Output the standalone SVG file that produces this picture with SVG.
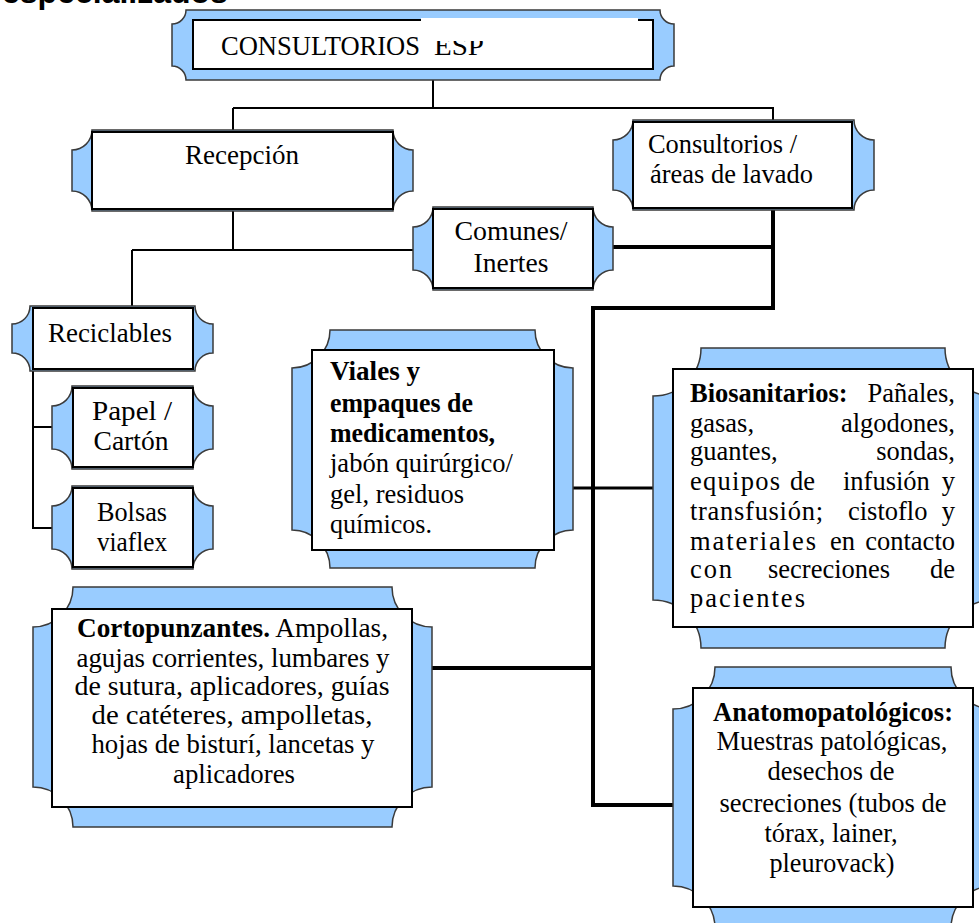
<svg xmlns="http://www.w3.org/2000/svg" width="979" height="923" viewBox="0 0 979 923">
  <style>
    .plq { fill: #99CCFF; stroke: #3a3a3a; stroke-width: 1.5; }
    .box { fill: #FFFFFF; stroke: #000000; stroke-width: 2; }
    .thin { fill: none; stroke: #000000; stroke-width: 2; }
    .thick { fill: none; stroke: #000000; stroke-width: 4; }
    .mid { fill: none; stroke: #000000; stroke-width: 3; }
    text { font-family: "Liberation Serif", "Times New Roman", serif; font-size: 26.5px; fill: #000000; }
    .b { font-weight: bold; }
    .c { text-anchor: middle; }
    .e { text-anchor: end; }
    .title { font-size: 27.5px; }
    .head { font-family: "Liberation Sans", Arial, sans-serif; font-size: 32px; font-weight: bold; }
  </style>

  <rect x="0" y="0" width="979" height="923" fill="#FFFFFF"/>

  <!-- heading, cut off by the top edge -->
  <text class="head" x="2" y="3">especializados</text>

  <!-- connectors -->
  <g id="connectors">
    <path class="thin" d="M433 80 V108 M233 108 H773 V122 M233 108 V131"/>
    <path class="thin" d="M233 209 V250 M132 250 H413 M132 250 V307"/>
    <path class="thin" d="M33 369 V528 H52 M33 427 H52"/>
    <path class="thick" d="M773 208 V308 H593 V805 H673"/>
    <path class="thick" d="M613 247 H773"/>
    <path class="thick" d="M432 668 H593"/>
    <path class="mid" d="M573 488 H653"/>
  </g>

  <!-- CONSULTORIOS ESP -->
  <g id="n-consultorios-esp">
    <path class="plq" d="M186 10 H660 A14 14 0 0 0 674 24 V66 A14 14 0 0 0 660 80 H186 A14 14 0 0 0 172 66 V24 A14 14 0 0 0 186 10 Z"/>
    <rect class="box" x="193" y="20" width="460" height="49"/>
    <text class="title" x="221" y="55" textLength="199" lengthAdjust="spacingAndGlyphs">CONSULTORIOS</text>
    <text class="title" x="434" y="55" textLength="50" lengthAdjust="spacingAndGlyphs">ESP</text>
    <rect x="421" y="18" width="217" height="23" fill="#FFFFFF"/>
  </g>

  <!-- Recepción -->
  <g id="n-recepcion">
    <path class="plq" d="M92 130 H393 A20 20 0 0 0 413 150 V191 A20 20 0 0 0 393 211 H92 A20 20 0 0 0 72 191 V150 A20 20 0 0 0 92 130 Z"/>
    <rect class="box" x="92" y="132" width="301" height="77"/>
    <text class="c" x="242" y="164" textLength="114" lengthAdjust="spacingAndGlyphs">Recepción</text>
  </g>

  <!-- Consultorios / áreas de lavado -->
  <g id="n-consultorios">
    <path class="plq" d="M633 120 H854 A20 20 0 0 0 874 140 V190 A20 20 0 0 0 854 210 H633 A20 20 0 0 0 613 190 V140 A20 20 0 0 0 633 120 Z"/>
    <rect class="box" x="633" y="122" width="219" height="86"/>
    <text x="648" y="153" textLength="149" lengthAdjust="spacingAndGlyphs">Consultorios /</text>
    <text x="650" y="183" textLength="163" lengthAdjust="spacingAndGlyphs">áreas de lavado</text>
  </g>

  <!-- Comunes / Inertes -->
  <g id="n-comunes">
    <path class="plq" d="M433 207 H593 A20 20 0 0 0 613 227 V270 A20 20 0 0 0 593 290 H433 A20 20 0 0 0 413 270 V227 A20 20 0 0 0 433 207 Z"/>
    <rect class="box" x="433" y="209" width="160" height="79"/>
    <text class="c" x="511" y="240" textLength="113" lengthAdjust="spacingAndGlyphs">Comunes/</text>
    <text class="c" x="511" y="272" textLength="75" lengthAdjust="spacingAndGlyphs">Inertes</text>
  </g>

  <!-- Reciclables -->
  <g id="n-reciclables">
    <path class="plq" d="M30 306 H195 A18 18 0 0 0 213 324 V353 A18 18 0 0 0 195 371 H30 A18 18 0 0 0 12 353 V324 A18 18 0 0 0 30 306 Z"/>
    <rect class="box" x="33" y="308" width="160" height="61"/>
    <text class="c" x="110" y="342" textLength="124" lengthAdjust="spacingAndGlyphs">Reciclables</text>
  </g>

  <!-- Papel / Cartón -->
  <g id="n-papel">
    <path class="plq" d="M72 386 H193 A20 20 0 0 0 213 406 V449 A20 20 0 0 0 193 469 H72 A20 20 0 0 0 52 449 V406 A20 20 0 0 0 72 386 Z"/>
    <rect class="box" x="73" y="388" width="120" height="79"/>
    <text class="c" x="132" y="420" textLength="80" lengthAdjust="spacingAndGlyphs">Papel /</text>
    <text class="c" x="131" y="450" textLength="75" lengthAdjust="spacingAndGlyphs">Cartón</text>
  </g>

  <!-- Bolsas viaflex -->
  <g id="n-bolsas">
    <path class="plq" d="M72 486 H193 A20 20 0 0 0 213 506 V549 A20 20 0 0 0 193 569 H72 A20 20 0 0 0 52 549 V506 A20 20 0 0 0 72 486 Z"/>
    <rect class="box" x="73" y="488" width="120" height="79"/>
    <text class="c" x="132" y="521" textLength="70" lengthAdjust="spacingAndGlyphs">Bolsas</text>
    <text class="c" x="132" y="551" textLength="70" lengthAdjust="spacingAndGlyphs">viaflex</text>
  </g>

  <!-- Viales y empaques de medicamentos -->
  <g id="n-viales">
    <path class="plq" d="M330 330 H535 A38 38 0 0 0 573 368 V530 A38 38 0 0 0 535 568 H330 A38 38 0 0 0 292 530 V368 A38 38 0 0 0 330 330 Z"/>
    <rect class="box" x="312" y="350" width="242" height="200"/>
    <text class="b" x="330" y="380" textLength="90" lengthAdjust="spacingAndGlyphs">Viales y</text>
    <text class="b" x="330" y="412" textLength="143" lengthAdjust="spacingAndGlyphs">empaques de</text>
    <text class="b" x="330" y="442" textLength="165" lengthAdjust="spacingAndGlyphs">medicamentos,</text>
    <text x="330" y="472" textLength="183" lengthAdjust="spacingAndGlyphs">jabón quirúrgico/</text>
    <text x="330" y="503" textLength="134" lengthAdjust="spacingAndGlyphs">gel, residuos</text>
    <text x="330" y="533" textLength="102" lengthAdjust="spacingAndGlyphs">químicos.</text>
  </g>

  <!-- Biosanitarios (justified block, words placed one by one) -->
  <g id="n-biosanitarios">
    <path class="plq" d="M701 348 H945 A48 48 0 0 0 993 396 V600 A48 48 0 0 0 945 648 H701 A48 48 0 0 0 653 600 V396 A48 48 0 0 0 701 348 Z"/>
    <rect class="box" x="673" y="369" width="300" height="258"/>
    <text class="b" x="690" y="402">Biosanitarios:</text>
    <text class="e" x="955" y="402">Pañales,</text>
    <text x="690" y="432">gasas,</text>
    <text class="e" x="955" y="432">algodones,</text>
    <text x="690" y="460">guantes,</text>
    <text class="e" x="955" y="460">sondas,</text>
    <text x="690" y="490" textLength="90" lengthAdjust="spacing">equipos</text>
    <text x="790" y="490">de</text>
    <text x="843" y="490">infusión</text>
    <text class="e" x="955" y="490">y</text>
    <text x="690" y="520" textLength="133" lengthAdjust="spacing">transfusión;</text>
    <text x="848" y="520">cistoflo</text>
    <text class="e" x="955" y="520">y</text>
    <text x="690" y="550" textLength="126" lengthAdjust="spacing">materiales</text>
    <text x="830" y="550">en</text>
    <text class="e" x="955" y="550">contacto</text>
    <text x="690" y="578" textLength="42" lengthAdjust="spacing">con</text>
    <text x="768" y="578">secreciones</text>
    <text class="e" x="955" y="578">de</text>
    <text x="690" y="607" textLength="115" lengthAdjust="spacing">pacientes</text>
  </g>

  <!-- Cortopunzantes -->
  <g id="n-cortopunzantes">
    <path class="plq" d="M73 587 H392 A40 40 0 0 0 432 627 V787 A40 40 0 0 0 392 827 H73 A40 40 0 0 0 33 787 V627 A40 40 0 0 0 73 587 Z"/>
    <rect class="box" x="52" y="609" width="360" height="198"/>
    <text x="77" y="637" textLength="311" lengthAdjust="spacingAndGlyphs"><tspan class="b">Cortopunzantes.</tspan> Ampollas,</text>
    <text class="c" x="233" y="667" textLength="313" lengthAdjust="spacingAndGlyphs">agujas corrientes, lumbares y</text>
    <text class="c" x="232" y="695" textLength="315" lengthAdjust="spacingAndGlyphs">de sutura, aplicadores, guías</text>
    <text class="c" x="232" y="724" textLength="281" lengthAdjust="spacingAndGlyphs">de catéteres,  ampolletas,</text>
    <text class="c" x="233" y="753" textLength="283" lengthAdjust="spacingAndGlyphs">hojas de bisturí, lancetas y</text>
    <text class="c" x="234" y="783" textLength="122" lengthAdjust="spacingAndGlyphs">aplicadores</text>
  </g>

  <!-- Anatomopatológicos -->
  <g id="n-anatomopatologicos">
    <path class="plq" d="M715 667 H951 A42 42 0 0 0 993 709 V886 A42 42 0 0 0 951 928 H715 A42 42 0 0 0 673 886 V709 A42 42 0 0 0 715 667 Z"/>
    <rect class="box" x="693" y="688" width="280" height="219"/>
    <text class="b c" x="833" y="721" textLength="240" lengthAdjust="spacingAndGlyphs">Anatomopatológicos:</text>
    <text class="c" x="832" y="750" textLength="231" lengthAdjust="spacingAndGlyphs">Muestras patológicas,</text>
    <text class="c" x="831" y="780" textLength="127" lengthAdjust="spacingAndGlyphs">desechos de</text>
    <text class="c" x="833" y="812" textLength="227" lengthAdjust="spacingAndGlyphs">secreciones (tubos de</text>
    <text class="c" x="831" y="842" textLength="133" lengthAdjust="spacingAndGlyphs">tórax, lainer,</text>
    <text class="c" x="832" y="872" textLength="125" lengthAdjust="spacingAndGlyphs">pleurovack)</text>
  </g>
</svg>
